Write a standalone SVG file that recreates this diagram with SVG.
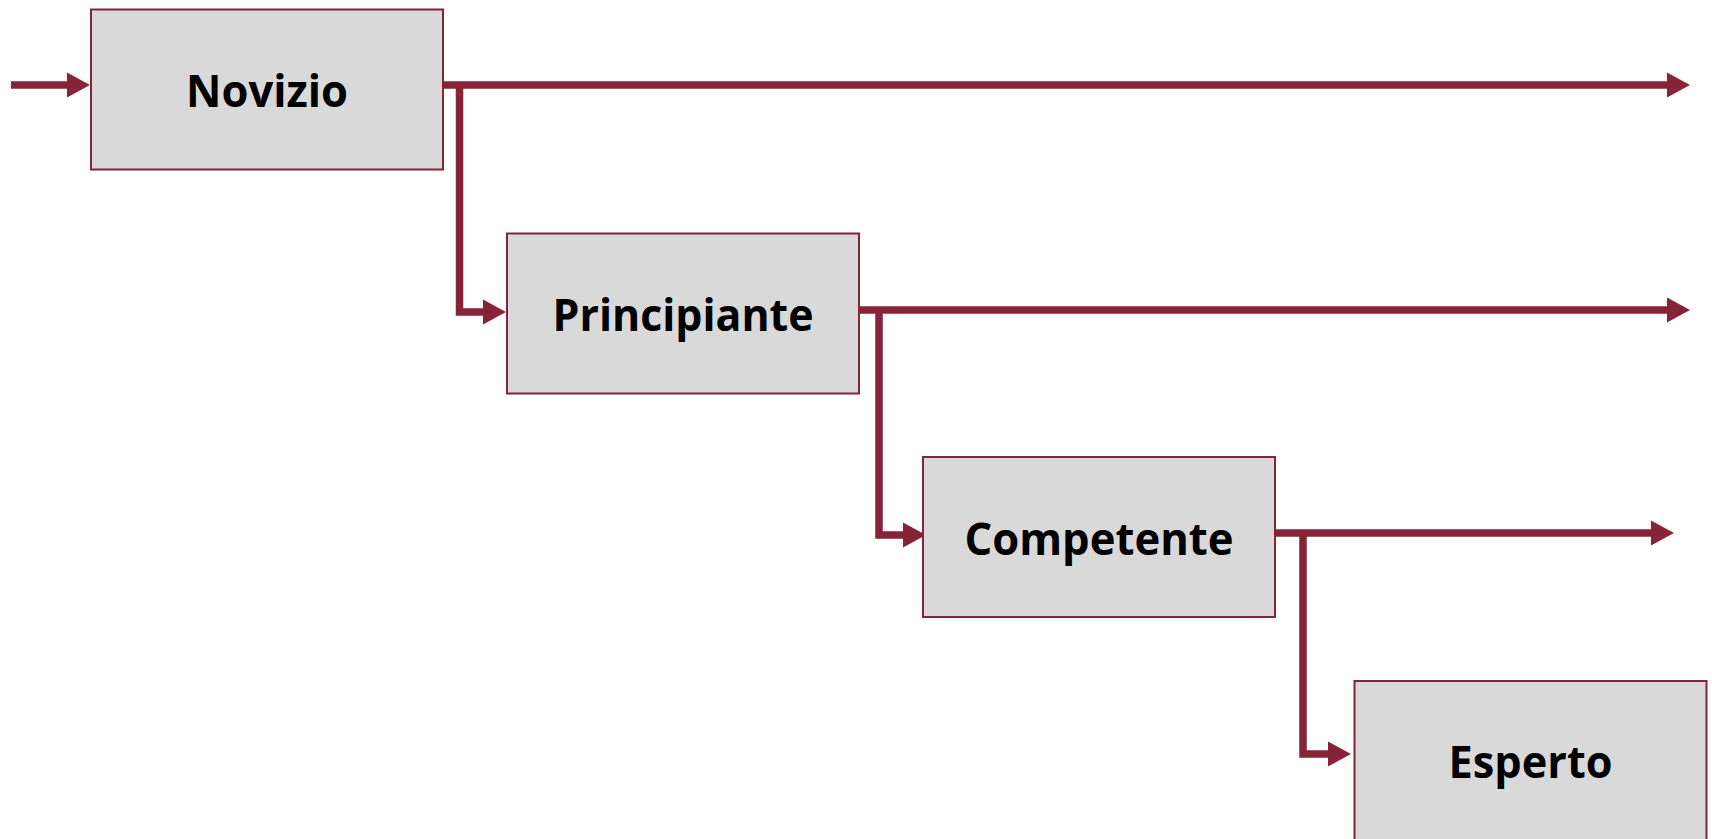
<svg xmlns="http://www.w3.org/2000/svg" width="1712" height="839" viewBox="0 0 1712 839">
<style>
.box{fill:#d9d9d9;stroke:#862337;stroke-width:2}
.lbl{font-family:"Open Sans","Liberation Sans",sans-serif;font-weight:bold;font-size:44px;fill:#000;text-anchor:middle}
.con{fill:none;stroke:#862337;stroke-width:7.5;stroke-linejoin:miter}
</style>
<defs>
<marker id="ah" markerUnits="userSpaceOnUse" markerWidth="24" markerHeight="25" refX="0" refY="12.5" orient="auto" overflow="visible">
<path d="M0,0 L23,12.5 L0,25 Z" fill="#862337"/>
</marker>
</defs>
<rect width="1712" height="839" fill="#fff"/>
<g id="connectors">
<path class="con" d="M11,85 H67" marker-end="url(#ah)"/>
<path class="con" d="M443,85 H1667" marker-end="url(#ah)"/>
<path class="con" d="M459.5,85 V312 H483" marker-end="url(#ah)"/>
<path class="con" d="M859,310 H1667" marker-end="url(#ah)"/>
<path class="con" d="M879,310 V535 H903" marker-end="url(#ah)"/>
<path class="con" d="M1276,533 H1651" marker-end="url(#ah)"/>
<path class="con" d="M1303,533 V754 H1328" marker-end="url(#ah)"/>
</g>
<g id="novizio">
<rect class="box" x="91" y="9.5" width="352" height="160"/>
<text class="lbl" x="267" y="107" textLength="162" lengthAdjust="spacingAndGlyphs">Novizio</text>
</g>
<g id="principiante">
<rect class="box" x="507" y="233.5" width="352" height="160"/>
<text class="lbl" x="683" y="331" textLength="261" lengthAdjust="spacingAndGlyphs">Principiante</text>
</g>
<g id="competente">
<rect class="box" x="923" y="457" width="352" height="160"/>
<text class="lbl" x="1099" y="555" textLength="269" lengthAdjust="spacingAndGlyphs">Competente</text>
</g>
<g id="esperto">
<rect class="box" x="1354.5" y="681" width="352" height="160"/>
<text class="lbl" x="1530.5" y="778" textLength="164" lengthAdjust="spacingAndGlyphs">Esperto</text>
</g>
</svg>
